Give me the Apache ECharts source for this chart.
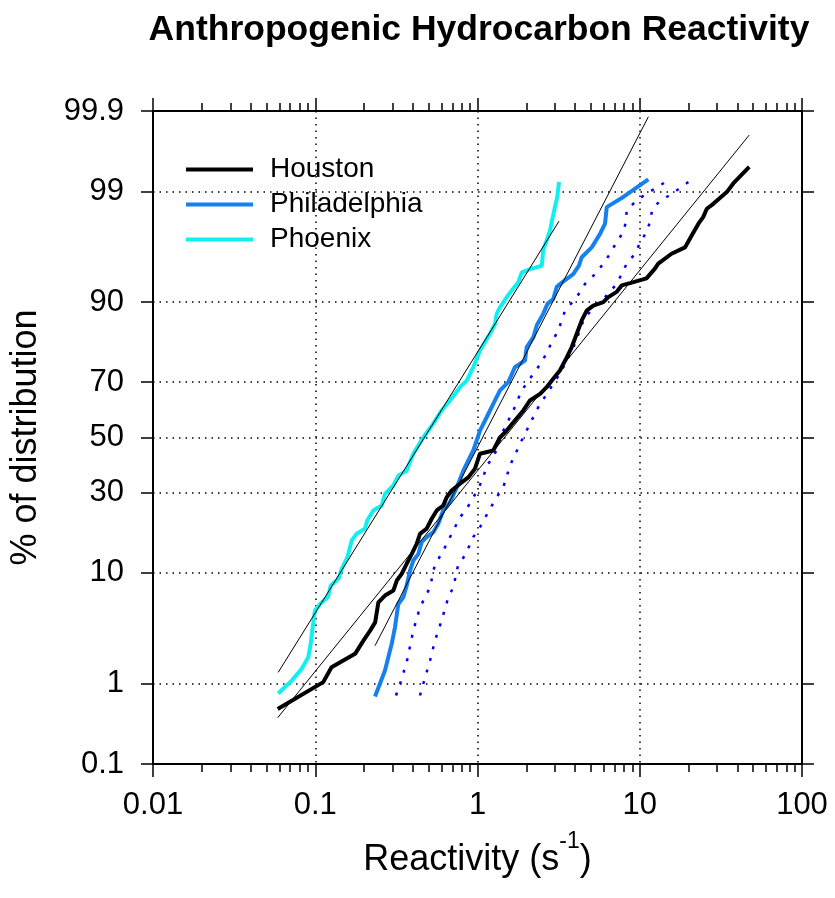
<!DOCTYPE html>
<html><head><meta charset="utf-8">
<script src="https://cdn.jsdelivr.net/npm/echarts@6/dist/echarts.min.js"></script>
<style>html,body{margin:0;padding:0;background:#fff}#c{width:835px;height:898px}</style>
</head><body><div id="c"></div>
<script>
// ---- tick definitions ----
const xTickValues = [0.01, 0.1, 1, 10, 100];
const xTickLabels = ['0.01', '0.1', '1', '10', '100'];
const xMinorMultipliers = [2, 3, 4, 5, 6, 7, 8, 9];
const yTickValues = [0.1, 1, 10, 30, 50, 70, 90, 99, 99.9];
const yTickLabels = ['0.1', '1', '10', '30', '50', '70', '90', '99', '99.9'];

// ---- data: [reactivity (s^-1), % of distribution] ----
const houston = [[0.0587,0.51],[0.112,1.03],[0.126,1.48],[0.176,2.03],[0.198,2.73],[0.218,3.38],[0.234,4.01],[0.245,5.94],[0.269,6.73],[0.303,7.37],[0.318,8.79],[0.341,9.84],[0.366,11.6],[0.393,13.5],[0.422,15.7],[0.442,18.1],[0.486,19.4],[0.522,22.1],[0.561,24.5],[0.615,26.0],[0.646,28.6],[0.693,30.8],[0.780,33.1],[0.878,35.3],[0.965,38.4],[1.036,43.9],[1.251,45.1],[1.376,50],[1.514,52.6],[1.70,56.4],[1.916,60.1],[2.107,63.7],[2.43,66.0],[2.67,68.3],[2.93,71.1],[3.22,73.7],[3.55,77.6],[3.81,80.4],[4.09,83.7],[4.39,86.6],[4.71,88.5],[5.17,89.4],[5.96,90.0],[6.40,90.8],[7.21,91.6],[7.74,92.5],[8.71,92.8],[11.0,93.4],[12.4,94.5],[13.0,95.0],[15.7,95.9],[19.0,96.4],[20.9,97.2],[23.0,97.85],[24.6,98.15],[25.9,98.48],[28.4,98.65],[34.4,98.99],[37.7,99.19],[47.3,99.48]];
const philadelphia = [[0.2336,0.71],[0.269,1.37],[0.296,2.54],[0.310,3.62],[0.325,5.76],[0.349,6.53],[0.366,8.05],[0.384,10.4],[0.402,12.2],[0.432,13.5],[0.453,16.1],[0.486,17.3],[0.534,18.5],[0.573,20.7],[0.615,24.5],[0.677,27.0],[0.745,31.8],[0.818,37.7],[0.858,40.2],[0.942,45.1],[1.036,52.6],[1.139,57.6],[1.251,62.5],[1.376,67.2],[1.549,70.0],[1.70,74.7],[1.963,76.7],[2.01,80.4],[2.21,82.9],[2.32,85.6],[2.54,87.9],[2.70,89.7],[2.93,90.5],[3.08,92.3],[3.37,93.0],[3.89,93.9],[4.22,94.8],[4.39,95.6],[5.06,96.4],[5.69,97.3],[6.11,97.85],[6.26,98.54],[7.92,98.86],[11.3,99.27]];
const phoenix = [[0.0591,0.77],[0.0716,1.07],[0.0825,1.43],[0.0906,1.88],[0.0938,2.54],[0.0964,3.62],[0.0995,5.07],[0.107,5.76],[0.120,6.6],[0.1245,8.05],[0.139,9.05],[0.1455,10.7],[0.1576,12.8],[0.1678,16.5],[0.180,18.1],[0.2027,19.4],[0.209,21.6],[0.228,24.5],[0.257,26.0],[0.269,29.7],[0.303,32.5],[0.325,35.9],[0.366,37.7],[0.402,43.9],[0.463,50],[0.534,55.2],[0.601,60.1],[0.677,63.7],[0.780,68.3],[0.858,70.5],[0.942,74.7],[1.036,79.5],[1.096,81.25],[1.194,83.7],[1.282,85.9],[1.313,87.9],[1.376,89.1],[1.514,90.8],[1.625,91.8],[1.784,92.9],[1.873,94.1],[2.16,94.5],[2.49,94.8],[2.54,96.2],[2.67,96.9],[2.80,97.5],[2.91,98.15],[3.00,98.54],[3.10,98.86],[3.18,99.22]];
const philaBoundLow = [[0.3145,0.73],[0.333,0.98],[0.366,1.67],[0.402,3.38],[0.442,5.4],[0.510,7.8],[0.547,11.6],[0.601,13.5],[0.677,17.3],[0.780,22.5],[0.858,25.0],[1.011,31.4],[1.086,35.3],[1.139,39.5],[1.251,42.6],[1.343,47.0],[1.41,51.4],[1.663,60.1],[1.873,67.2],[2.21,72.7],[2.49,76.2],[2.87,81.6],[3.15,84.5],[3.46,88.5],[4.09,90.8],[4.60,92.7],[5.30,93.9],[5.96,95.0],[6.56,95.9],[7.21,96.8],[7.92,97.4],[8.23,97.97],[8.31,98.42],[9.35,98.71],[10.8,98.93],[12.7,99.10],[14.9,99.25]];
const philaBoundHigh = [[0.442,0.73],[0.463,0.98],[0.510,1.74],[0.547,2.73],[0.601,4.16],[0.661,6.53],[0.709,7.8],[0.762,11.6],[0.838,13.2],[0.942,17.3],[1.036,19.8],[1.194,25.0],[1.313,28.6],[1.442,31.9],[1.586,39.5],[1.828,47.6],[1.963,51.4],[2.107,55.2],[2.37,61.3],[2.67,66.0],[3.22,72.7],[3.63,77.6],[3.99,81.25],[4.49,86.6],[5.17,89.1],[6.11,90.8],[7.21,92.7],[8.31,95.0],[9.35,95.9],[10.1,96.8],[11.0,97.4],[11.6,97.97],[11.9,98.42],[13.1,98.71],[15.4,98.92],[18.1,99.11],[20.9,99.27]];
const houstonFit = [[0.0587,0.40],[47.3,99.79]];
const philadelphiaFit = [[0.2336,2.44],[11.3,99.88]];
const phoenixFit = [[0.0591,1.31],[3.18,97.97]];

// ---- probability (probit) transform ----
function probit(p){
  const a=[-3.969683028665376e+01,2.209460984245205e+02,-2.759285104469687e+02,1.383577518672690e+02,-3.066479806614716e+01,2.506628277459239e+00];
  const b=[-5.447609879822406e+01,1.615858368580409e+02,-1.556989798598866e+02,6.680131188771972e+01,-1.328068155288572e+01];
  const c=[-7.784894002430293e-03,-3.223964580411365e-01,-2.400758277161838e+00,-2.549732539343734e+00,4.374664141464968e+00,2.938163982698783e+00];
  const d=[7.784695709041462e-03,3.224671290700398e-01,2.445134137142996e+00,3.754408661907416e+00];
  const pl=0.02425, ph=1-pl; let q,r;
  if(p<pl){q=Math.sqrt(-2*Math.log(p));return (((((c[0]*q+c[1])*q+c[2])*q+c[3])*q+c[4])*q+c[5])/((((d[0]*q+d[1])*q+d[2])*q+d[3])*q+1);}
  if(p<=ph){q=p-0.5;r=q*q;return (((((a[0]*r+a[1])*r+a[2])*r+a[3])*r+a[4])*r+a[5])*q/(((((b[0]*r+b[1])*r+b[2])*r+b[3])*r+b[4])*r+1);}
  q=Math.sqrt(-2*Math.log(1-p));return -(((((c[0]*q+c[1])*q+c[2])*q+c[3])*q+c[4])*q+c[5])/((((d[0]*q+d[1])*q+d[2])*q+d[3])*q+1);
}
const tx = v => Math.log10(v);
const ty = p => probit(p / 100);
const toXY = arr => arr.map(([x, p]) => [tx(x), ty(p)]);

const xMajor = xTickValues.map(tx);
const xMinor = [];
xTickValues.slice(0, -1).forEach(d => xMinorMultipliers.forEach(m => xMinor.push(tx(m * d))));
const yMajor = yTickValues.map(ty);
const xMin = tx(xTickValues[0]), xMax = tx(xTickValues[xTickValues.length - 1]);
const yMin = ty(yTickValues[0]), yMax = ty(yTickValues[yTickValues.length - 1]);

const FONT = 'Liberation Sans, Arial, Helvetica, sans-serif';
const xLabelFmt = v => { const i = xMajor.findIndex(t => Math.abs(t - v) < 1e-6); return i >= 0 ? xTickLabels[i] : ''; };
const yLabelFmt = v => { const i = yMajor.findIndex(t => Math.abs(t - v) < 1e-6); return i >= 0 ? yTickLabels[i] : ''; };

const gridLine = { show: true, lineStyle: { color: '#000', width: 1.5, type: [1.5, 5] } };
const frameLine = { show: true, onZero: false, lineStyle: { color: '#000', width: 2 } };
function xAxisDef(pos, ticks, len, opts) {
  return Object.assign({
    type: 'value', position: pos, min: xMin, max: xMax, gridIndex: 0,
    axisLine: { show: false, onZero: false },
    axisTick: { show: true, customValues: ticks, length: len, lineStyle: { color: '#000', width: 1.5 } },
    axisLabel: { show: false },
    splitLine: { show: false }
  }, opts || {});
}

const chart = echarts.init(document.getElementById('c'), null, { renderer: 'canvas' });
const lineSeries = (name, data, color, width, type, z) => ({
  name, type: 'line', data: toXY(data), xAxisIndex: 0, yAxisIndex: 0,
  showSymbol: false, symbol: 'none', silent: true, z: z,
  itemStyle: { color }, lineStyle: { color, width, type: type || 'solid', cap: 'butt' }
});

chart.setOption({
  animation: false,
  backgroundColor: '#fff',
  textStyle: { fontFamily: FONT },
  grid: { left: 153, right: 33, top: 111, bottom: 134, containLabel: false, outerBoundsMode: 'none' },
  graphic: [{
    type: 'text', x: 479, y: 12,
    style: { text: 'Anthropogenic Hydrocarbon Reactivity', font: 'bold 35.5px ' + FONT, fill: '#000', align: 'center', verticalAlign: 'top' }
  }],
  legend: {
    data: ['Houston', 'Philadelphia', 'Phoenix'],
    orient: 'vertical', left: 186, top: 152, padding: 0, itemGap: 0,
    icon: 'rect', itemWidth: 67, itemHeight: 4,
    textStyle: { fontSize: 28, fontFamily: FONT, color: '#000', lineHeight: 35, padding: [0, 0, 0, 12] },
    selectedMode: false
  },
  xAxis: [
    xAxisDef('bottom', xMajor, 13, {
      axisLine: frameLine,
      axisLabel: { show: true, customValues: xMajor, formatter: xLabelFmt, fontSize: 31, color: '#000', fontFamily: FONT, margin: 26 },
      splitLine: gridLine,
      name: '{a|Reactivity (s}{b|-1}{a|)}', nameLocation: 'middle', nameGap: 66,
      nameTextStyle: { rich: {
        a: { fontSize: 36, fontFamily: FONT, color: '#000', verticalAlign: 'bottom', lineHeight: 48 },
        b: { fontSize: 23, fontFamily: FONT, color: '#000', verticalAlign: 'top', lineHeight: 48 }
      } }
    }),
    xAxisDef('bottom', xMinor, 8),
    xAxisDef('top', xMajor, 13, { axisLine: frameLine }),
    xAxisDef('top', xMinor, 8)
  ],
  yAxis: [
    {
      type: 'value', position: 'left', min: yMin, max: yMax,
      axisLine: frameLine,
      axisTick: { show: true, customValues: yMajor, length: 12, lineStyle: { color: '#000', width: 1.5 } },
      axisLabel: { show: true, customValues: yMajor, formatter: yLabelFmt, fontSize: 31, color: '#000', fontFamily: FONT, margin: 29 },
      splitLine: gridLine,
      name: '% of distribution', nameLocation: 'middle', nameGap: 109,
      nameTextStyle: { fontSize: 36, fontFamily: FONT, color: '#000' }
    },
    {
      type: 'value', position: 'right', min: yMin, max: yMax,
      axisLine: frameLine,
      axisTick: { show: true, customValues: yMajor, length: 12, lineStyle: { color: '#000', width: 1.5 } },
      axisLabel: { show: false }, splitLine: { show: false }
    }
  ],
  series: [
    lineSeries('boundLow', philaBoundLow, '#0000ff', 2.5, [3, 9], 2),
    lineSeries('boundHigh', philaBoundHigh, '#0000ff', 2.5, [3, 9], 2),
    lineSeries('Philadelphia', philadelphia, '#1580ee', 4, 'solid', 3),
    lineSeries('Houston', houston, '#000000', 4, 'solid', 4),
    lineSeries('Phoenix', phoenix, '#10f0f0', 4, 'solid', 3),
    lineSeries('fitHouston', houstonFit, '#000000', 1, 'solid', 5),
    lineSeries('fitPhiladelphia', philadelphiaFit, '#000000', 1, 'solid', 5),
    lineSeries('fitPhoenix', phoenixFit, '#000000', 1, 'solid', 5)
  ]
});
</script>
</body></html>
